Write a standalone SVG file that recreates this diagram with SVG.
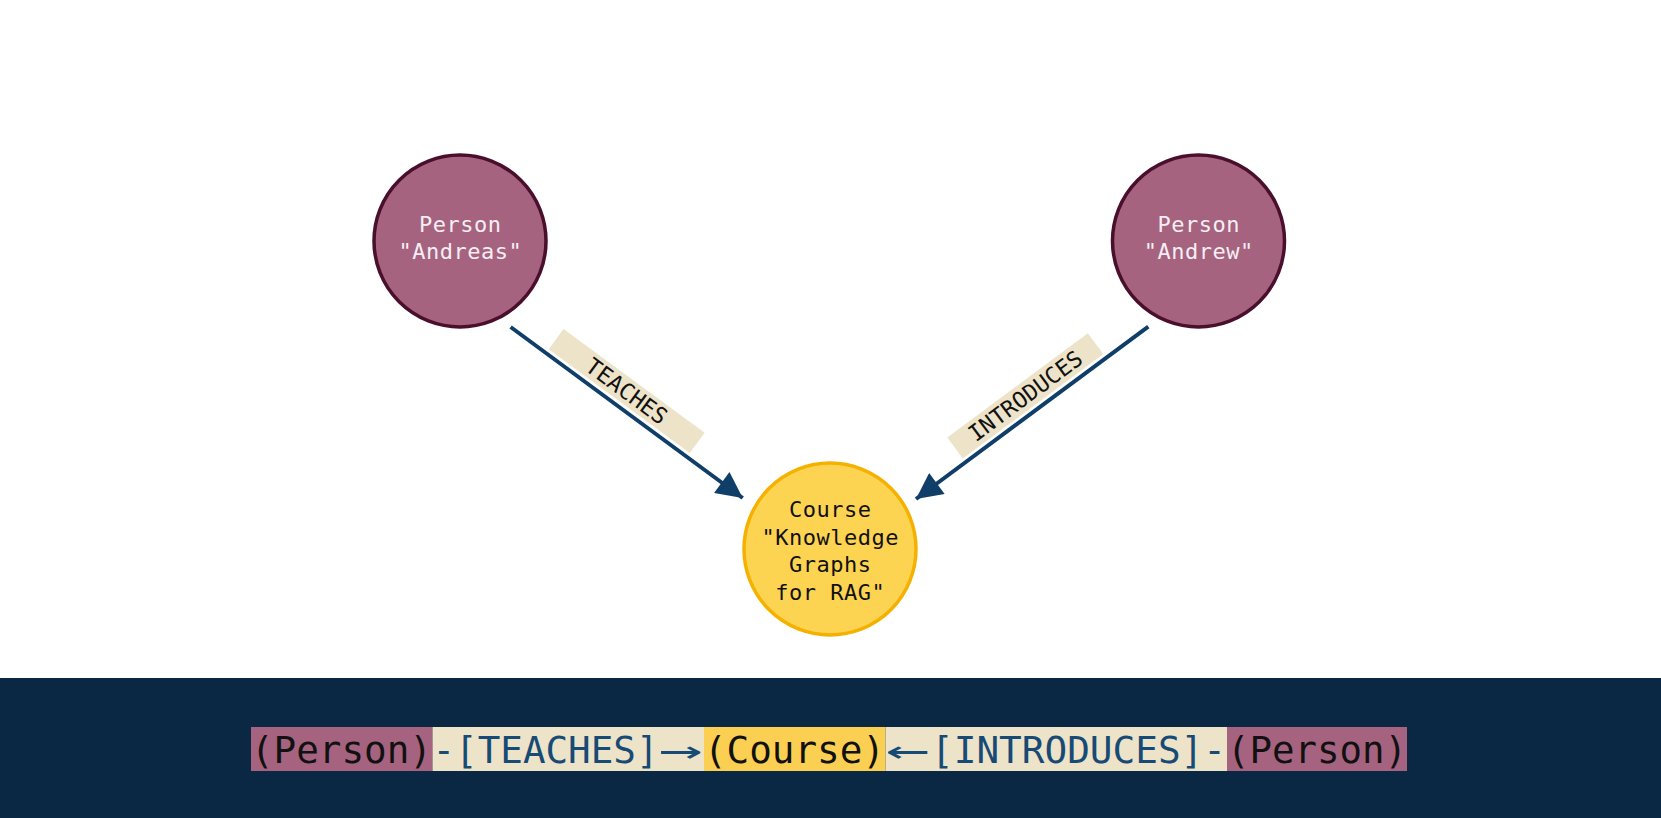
<svg xmlns="http://www.w3.org/2000/svg" width="1661" height="818" viewBox="0 0 1661 818">
<defs>
<style>
.person{fill:#a5637f;stroke:#4a0f2d;stroke-width:3.5}
.course{fill:#fdd451;stroke:#f5b100;stroke-width:3.5}
.ntxt{font-family:"DejaVu Sans Mono","Liberation Mono",monospace;font-size:22px;letter-spacing:0.5px;text-anchor:middle}
.ptxt{fill:#f7eef3}
.ctxt{fill:#111111}
.edge{stroke:#0f3e68;stroke-width:4;fill:none}
.lbox{fill:#ede3c9}
.ltxt{font-family:"DejaVu Sans Mono","Liberation Mono",monospace;font-size:22.5px;fill:#111111;text-anchor:middle}
.btxt{font-family:"DejaVu Sans Mono","Liberation Mono",monospace;font-size:38px}
</style>
<marker id="ah" viewBox="0 0 10 10" refX="10" refY="5" markerWidth="7.5" markerHeight="6.5" markerUnits="strokeWidth" orient="auto">
<path d="M0,0 L10,5 L0,10 z" fill="#0f3e68"/>
</marker>
</defs>
<rect width="1661" height="818" fill="#ffffff"/>
<g id="connectors">
<g id="edge-teaches">
<line class="edge" x1="510.6" y1="327" x2="742.7" y2="498" marker-end="url(#ah)"/>
<g transform="translate(626.7,391) rotate(36.3)">
<rect class="lbox" x="-87.5" y="-12.5" width="175" height="25"/>
<text class="ltxt" x="0" y="8">TEACHES</text>
</g>
</g>
<g id="edge-introduces">
<line class="edge" x1="1148.3" y1="326.7" x2="916" y2="499" marker-end="url(#ah)"/>
<g transform="translate(1025.3,395.8) rotate(-36.6)">
<rect class="lbox" x="-87.5" y="-13" width="175" height="26"/>
<text class="ltxt" x="0" y="8">INTRODUCES</text>
</g>
</g>
</g>
<g id="node-andreas">
<circle class="person" cx="460" cy="241" r="86"/>
<text class="ntxt ptxt" x="460.3" y="231.5">Person</text>
<text class="ntxt ptxt" x="460.3" y="258.5">"Andreas"</text>
</g>
<g id="node-andrew">
<circle class="person" cx="1198.5" cy="241" r="86"/>
<text class="ntxt ptxt" x="1198.8" y="231.5">Person</text>
<text class="ntxt ptxt" x="1198.8" y="258.5">"Andrew"</text>
</g>
<g id="node-course">
<circle class="course" cx="830" cy="549" r="86"/>
<text class="ntxt ctxt" x="830.3" y="517">Course</text>
<text class="ntxt ctxt" x="830.3" y="544.5">"Knowledge</text>
<text class="ntxt ctxt" x="830.3" y="572">Graphs</text>
<text class="ntxt ctxt" x="830.3" y="599.5">for RAG"</text>
</g>
<g id="pattern-band">
<rect x="0" y="678" width="1661" height="140" fill="#0a2843"/>
<rect x="251" y="727" width="181.5" height="44" fill="#a5637f"/>
<rect x="432.5" y="727" width="271.5" height="44" fill="#ede3c9"/>
<rect x="704" y="727" width="181.5" height="44" fill="#fbd052"/>
<rect x="885.5" y="727" width="341.5" height="44" fill="#ede3c9"/>
<rect x="1227" y="727" width="180" height="44" fill="#a5637f"/>
<text class="btxt" x="251" y="763" fill="#111111" textLength="181" lengthAdjust="spacingAndGlyphs">(Person)</text>
<text class="btxt" x="432.5" y="763" fill="#174a74" textLength="226" lengthAdjust="spacingAndGlyphs">-[TEACHES]</text>
<text class="btxt" x="659" y="763" fill="#174a74" textLength="44" lengthAdjust="spacingAndGlyphs">→</text>
<text class="btxt" x="704" y="763" fill="#111111" textLength="181" lengthAdjust="spacingAndGlyphs">(Course)</text>
<text class="btxt" x="886" y="763" fill="#174a74" textLength="44" lengthAdjust="spacingAndGlyphs">←</text>
<text class="btxt" x="931" y="763" fill="#174a74" textLength="295" lengthAdjust="spacingAndGlyphs">[INTRODUCES]-</text>
<text class="btxt" x="1227" y="763" fill="#111111" textLength="180" lengthAdjust="spacingAndGlyphs">(Person)</text>
</g>
</svg>
